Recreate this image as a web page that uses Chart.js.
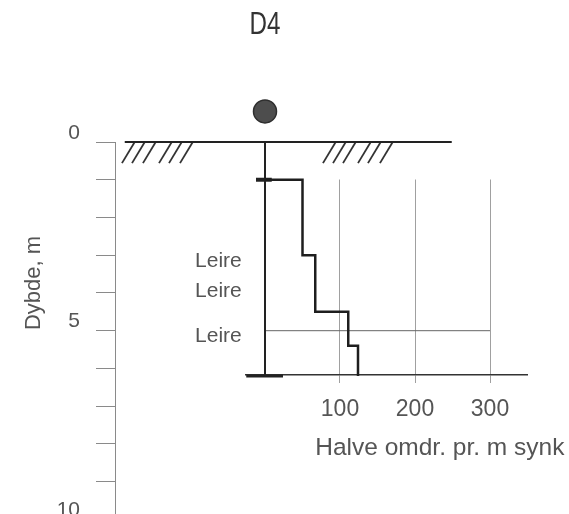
<!DOCTYPE html>
<html>
<head>
<meta charset="utf-8">
<script src="https://cdn.jsdelivr.net/npm/chart.js@4.4.0/dist/chart.umd.min.js"></script>
<style>
  html, body { margin: 0; padding: 0; background: #fff; overflow: hidden; }
  #wrap { position: relative; width: 569px; height: 514px; overflow: hidden; }
  #wrap canvas { position: absolute; left: 0; top: 0; }
</style>
</head>
<body>
<div id="wrap">
  <canvas id="axisChart" width="569" height="514"></canvas>
  <canvas id="logChart" width="569" height="548"></canvas>
</div>
<script>
// sounding D4
var depthLabels = [0, 5, 10];            // labelled depths on the left axis (m)
var turnTicks = [100, 200, 300];         // half turns per m, bottom axis
var layerDepths = [1, 3, 4.5, 5.4, 6.2]; // depth where resistance changes
var halfTurns = [50, 67, 111, 124];      // half turns per m in each layer
var soilNames = ['Leire', 'Leire', 'Leire'];
var soilDepths = [3.3, 4.1, 5.3];
var refDepth = 5;                        // thin reference line
var stopDepth = 6.2;
var symbolDepth = -0.81;                 // sounding symbol above ground

// ground surface + hatching (x in the same units as the sounding)
var groundFrom = -187, groundTo = 249;
var hatchLeft = [-190.7, -177.3, -162.7, -141.3, -128, -113.3];
var hatchRight = [77.3, 90.7, 104, 124, 137.3, 153.3];

var textColor = '#555';
var wordFont = '"Liberation Sans", sans-serif';

// build the stepped curve
var curve = [{ x: 0, y: layerDepths[0] }];
for (var i = 0; i < halfTurns.length; i++) {
    curve.push({ x: halfTurns[i], y: layerDepths[i] });
    curve.push({ x: halfTurns[i], y: layerDepths[i + 1] });
}

function seg(points, color, width) {
    return {
        data: points, showLine: true, pointRadius: 0, clip: false,
        borderColor: color, borderWidth: width, fill: false
    };
}

var datasets = [];
datasets.push(seg(curve, '#1e1e1e', 2.5));
datasets.push(seg([{ x: -12, y: layerDepths[0] }, { x: 9, y: layerDepths[0] }], '#222', 4));
datasets.push(seg([{ x: -25, y: stopDepth }, { x: 24, y: stopDepth }], '#222', 3));
datasets.push(seg([{ x: 0, y: 0 }, { x: 0, y: stopDepth }], '#222', 2));
datasets.push(seg([{ x: 0, y: refDepth }, { x: turnTicks[2], y: refDepth }], '#666', 1));
datasets.push(seg([{ x: groundFrom, y: 0 }, { x: groundTo, y: 0 }], '#222', 2));
hatchLeft.concat(hatchRight).forEach(function (h) {
    datasets.push(seg([{ x: h, y: 0.56 }, { x: h + 17, y: 0 }], '#333', 1.8));
});

var logTexts = {
    id: 'logTexts',
    afterDraw: function (chart) {
        var ctx = chart.ctx, x = chart.scales.x, y = chart.scales.y;

        // sounding symbol (outside the chart area, so points would be skipped)
        ctx.save();
        ctx.beginPath();
        ctx.arc(x.getPixelForValue(0), y.getPixelForValue(symbolDepth), 11.5, 0, Math.PI * 2);
        ctx.fillStyle = '#4d4d4d';
        ctx.fill();
        ctx.lineWidth = 1.5;
        ctx.strokeStyle = '#2e2e2e';
        ctx.stroke();
        ctx.restore();

        ctx.save();
        ctx.fillStyle = '#333';
        ctx.font = '31px ' + wordFont;
        ctx.textAlign = 'center';
        ctx.textBaseline = 'middle';
        ctx.translate(x.getPixelForValue(0), 25);
        ctx.scale(0.78, 1);                    // narrow drawing lettering
        ctx.fillText('D4', 0, 0);
        ctx.restore();

        ctx.save();
        ctx.fillStyle = textColor;
        ctx.font = '21px ' + wordFont;
        ctx.textAlign = 'right';
        ctx.textBaseline = 'alphabetic';
        soilNames.forEach(function (t, i) {
            ctx.fillText(t, x.getPixelForValue(-31), y.getPixelForValue(soilDepths[i]));
        });

        ctx.font = '22px ' + wordFont;
        ctx.textAlign = 'center';
        ctx.textBaseline = 'middle';
        ctx.translate(34, 283);
        ctx.rotate(-Math.PI / 2);
        ctx.fillText('Dybde, m', 0, 0);
        ctx.restore();
    }
};

var axisTexts = {
    id: 'axisTexts',
    afterDraw: function (chart) {
        var ctx = chart.ctx, x = chart.scales.x;
        ctx.save();
        ctx.fillStyle = textColor;
        ctx.font = '24.5px ' + wordFont;
        ctx.textAlign = 'left';
        ctx.textBaseline = 'middle';
        ctx.fillText('Halve omdr. pr. m synk', x.getPixelForValue(67), 448);
        ctx.restore();
    }
};

// bottom axis of the sounding (half turns)
new Chart(document.getElementById('axisChart'), {
    type: 'scatter',
    data: { datasets: [] },
    options: {
        responsive: false,
        animation: false,
        layout: { autoPadding: false, padding: { left: 246, right: 42, top: 179.5, bottom: 0 } },
        plugins: { legend: { display: false }, tooltip: { enabled: false } },
        scales: {
            x: {
                type: 'linear', position: 'bottom', min: -25.3, max: 349.3,
                afterBuildTicks: function (s) {
                    s.ticks = turnTicks.map(function (v) { return { value: v }; });
                },
                afterFit: function (s) { s.height = 139; },
                grid: { color: '#a0a0a0', lineWidth: 1, tickLength: 8 },
                border: { color: '#333', width: 1.5 },
                ticks: { color: textColor, padding: 13, font: { family: wordFont, size: 23 } }
            },
            y: { display: false, min: layerDepths[0], max: stopDepth, reverse: true }
        }
    },
    plugins: [axisTexts]
});

// depth axis + log drawing (canvas runs a little below the page so 10 m sits at the edge)
new Chart(document.getElementById('logChart'), {
    type: 'scatter',
    data: { datasets: datasets },
    options: {
        responsive: false,
        animation: false,
        layout: { autoPadding: false, padding: { left: 0, right: 42, top: 142, bottom: 2.8 } },
        plugins: { legend: { display: false }, tooltip: { enabled: false } },
        scales: {
            x: { display: false, min: -200, max: 349.33 },
            y: {
                position: 'left', reverse: true, min: 0, max: 10,
                afterFit: function (s) { s.width = 115; },
                grid: { drawOnChartArea: false, tickLength: 19, color: '#8a8a8a' },
                border: { color: '#8a8a8a', width: 1 },
                ticks: {
                    stepSize: 1, autoSkip: false, padding: 16, labelOffset: -9,
                    color: textColor, font: { family: wordFont, size: 21 },
                    callback: function (v) { return depthLabels.indexOf(v) >= 0 ? v : ''; }
                }
            }
        }
    },
    plugins: [logTexts]
});
</script>
</body>
</html>
